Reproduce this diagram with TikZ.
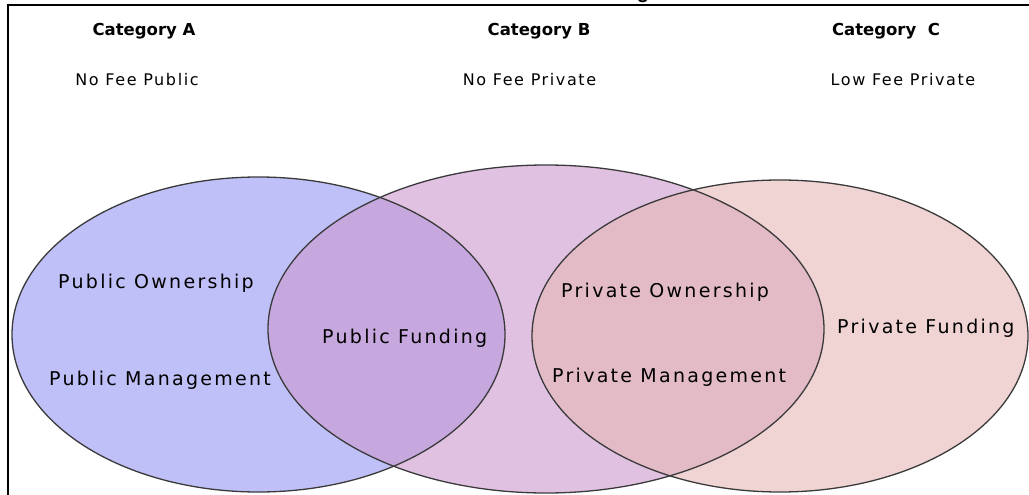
\documentclass[tikz,border=0pt]{standalone}
\usepackage{fontspec}
\setmainfont{DejaVu Sans}
\newfontfamily\lblfont[LetterSpace=12]{DejaVu Sans}
\newfontfamily\subfont[LetterSpace=10]{DejaVu Sans}
\newfontfamily\ttlfont{Liberation Sans}
\definecolor{fillA}{HTML}{C0C0F8}
\definecolor{fillB}{HTML}{E1C1E1}
\definecolor{fillC}{HTML}{F0D4D4}
\definecolor{fillAB}{HTML}{C7A8DE}
\definecolor{fillBC}{HTML}{E3BBC6}
\definecolor{rimcol}{HTML}{3A3A3A}
\tikzset{
  rim/.style={draw=rimcol, line width=1.3pt},
  frame/.style={line width=2.2pt, black},
  cat/.style={inner sep=0pt, anchor=base, font=\fontsize{16.5}{16.5}\selectfont\bfseries},
  fee/.style={inner sep=0pt, anchor=base, font=\subfont\fontsize{16}{16}\selectfont},
  lbl/.style={inner sep=0pt, anchor=base west, font=\lblfont\fontsize{19}{19}\selectfont},
}
\begin{document}
\begin{tikzpicture}[x=1pt,y=-1pt]
\useasboundingbox (0,0) rectangle (1029,495);

% frame (top and left edges only)
\coordinate (ftop) at (1030,5);
\coordinate (fcorner) at (8,5);
\coordinate (fbottom) at (8,496);
\draw[frame] (ftop) -- (fcorner) -- (fbottom);

% title, mostly above the page
\node[inner sep=0pt, anchor=base, font=\ttlfont\fontsize{20}{20}\selectfont\bfseries] (title) at (643,-1) {g};

% ellipse fills
\fill[fillA] (258.5,334.5) ellipse [x radius=246.5, y radius=157.5];
\fill[fillB] (546,329) ellipse [x radius=278, y radius=164];
\fill[fillC] (780,336) ellipse [x radius=248, y radius=156];
\begin{scope}
  \clip (546,329) ellipse [x radius=278, y radius=164];
  \fill[fillAB] (258.5,334.5) ellipse [x radius=246.5, y radius=157.5];
\end{scope}
\begin{scope}
  \clip (780,336) ellipse [x radius=248, y radius=156];
  \fill[fillBC] (546,329) ellipse [x radius=278, y radius=164];
\end{scope}

% ellipse outlines
\draw[rim] (258.5,334.5) ellipse [x radius=246.5, y radius=157.5];
\draw[rim] (546,329) ellipse [x radius=278, y radius=164];
\draw[rim] (780,336) ellipse [x radius=248, y radius=156];

% column headings
\node[cat] (catA) at (144,36) {Category A};
\node[cat] (catB) at (539,36) {Category B};
\node[cat] (catC) at (886,36) {Category\ \ C};
\node[fee] (feeA) at (137,85) {No Fee Public};
\node[fee] (feeB) at (529.5,85) {No Fee Private};
\node[fee] (feeC) at (903,85) {Low Fee Private};

% region labels
\node[lbl] (pubown) at (58,288) {Public Ownership};
\node[lbl] (pubman) at (49,385.5) {Public Management};
\node[lbl] (pubfund) at (322,343) {Public Funding};
\node[lbl] (priown) at (561,297.5) {Private Ownership};
\node[lbl] (priman) at (552,382) {Private Management};
\node[lbl] (prifund) at (837,333) {Private Funding};
\end{tikzpicture}
\end{document}
